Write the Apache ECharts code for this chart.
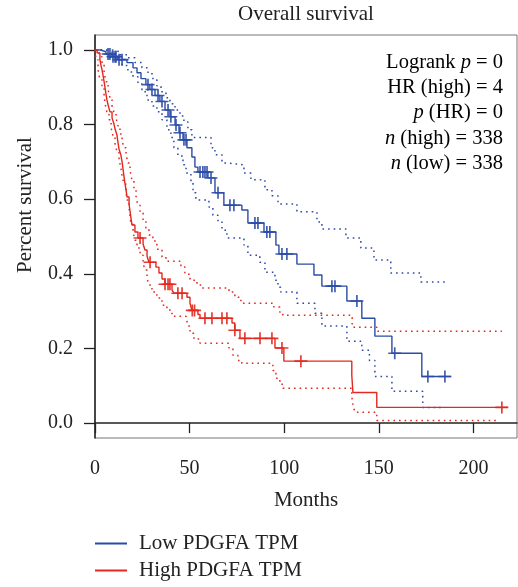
<!DOCTYPE html>
<html>
<head>
<meta charset="utf-8" />
<title>Overall survival</title>
<script src="https://cdn.jsdelivr.net/npm/echarts@6/dist/echarts.min.js"></script>
</head>
<body style="margin:0">
<div id="chart" style="width:518px;height:587px"></div>
<script>
// Kaplan-Meier step points: [month, survival]
var lowCurve = [[0,1.0],[2.6,0.995],[5.8,0.989],[9.0,0.982],[12.1,0.974],[16.9,0.966],[20.1,0.952],[22.2,0.939],[24.3,0.923],[26.9,0.907],[29.0,0.894],[31.7,0.878],[34.3,0.862],[37.0,0.839],[39.6,0.821],[42.3,0.799],[44.4,0.778],[46.5,0.759],[48.6,0.738],[51.2,0.713],[52.8,0.686],[54.4,0.673],[59.7,0.657],[63.4,0.617],[68.1,0.584],[77.6,0.571],[80.8,0.536],[89.3,0.512],[95.6,0.477],[97.2,0.453],[106.7,0.426],[115.7,0.397],[119.9,0.367],[133.1,0.327],[141.0,0.281],[147.9,0.233],[156.9,0.187],[172.7,0.125],[188.0,0.125]];
var lowUpper = [[0,1.0],[9.0,0.995],[13.2,0.987],[17.4,0.979],[21.1,0.966],[24.8,0.952],[28.0,0.936],[30.6,0.920],[32.7,0.904],[34.9,0.888],[37.5,0.872],[39.6,0.856],[42.3,0.839],[44.9,0.823],[47.0,0.807],[49.1,0.786],[51.2,0.765],[61.3,0.738],[63.4,0.719],[67.1,0.697],[69.7,0.692],[78.7,0.670],[82.4,0.652],[89.8,0.625],[93.5,0.609],[96.7,0.587],[106.7,0.566],[117.3,0.539],[119.9,0.520],[132.6,0.496],[140.5,0.469],[147.4,0.437],[156.3,0.402],[172.2,0.378],[184.9,0.378]];
var lowLower = [[0,1.0],[5.3,0.995],[9.0,0.987],[12.1,0.974],[14.3,0.958],[17.4,0.941],[20.1,0.928],[22.7,0.909],[24.8,0.888],[27.5,0.866],[30.1,0.850],[32.7,0.834],[35.4,0.813],[38.0,0.786],[40.1,0.765],[41.7,0.738],[43.8,0.716],[46.5,0.692],[48.1,0.670],[50.7,0.646],[51.8,0.617],[53.3,0.598],[60.2,0.579],[62.3,0.557],[65.0,0.539],[67.1,0.517],[69.7,0.496],[78.7,0.477],[80.8,0.450],[87.1,0.431],[89.8,0.404],[95.1,0.383],[96.7,0.364],[98.2,0.351],[106.7,0.321],[116.2,0.294],[119.9,0.260],[133.1,0.219],[141.0,0.195],[145.0,0.168],[147.9,0.125],[156.9,0.085],[173.2,0.042],[184.9,0.042]];

var highCurve = [[0,1.0],[1.1,0.992],[2.6,0.974],[3.2,0.958],[3.7,0.947],[4.2,0.933],[4.8,0.915],[5.3,0.899],[5.8,0.882],[6.3,0.866],[6.9,0.853],[7.9,0.834],[9.0,0.818],[10.0,0.802],[10.6,0.788],[11.6,0.772],[12.1,0.753],[12.7,0.734],[13.7,0.718],[14.3,0.700],[14.8,0.681],[15.3,0.662],[15.8,0.643],[16.4,0.625],[16.9,0.606],[18.0,0.587],[18.5,0.568],[19.0,0.550],[19.5,0.531],[21.1,0.512],[22.7,0.496],[25.4,0.480],[26.4,0.464],[27.5,0.447],[28.5,0.431],[32.2,0.418],[33.8,0.402],[35.4,0.386],[37.0,0.372],[40.7,0.356],[41.7,0.348],[48.6,0.337],[50.2,0.321],[51.2,0.302],[54.4,0.291],[55.5,0.281],[72.4,0.268],[73.9,0.249],[76.6,0.227],[95.1,0.201],[99.8,0.166],[135.7,0.128],[136.3,0.082],[148.9,0.042],[218.1,0.042]];
var highUpper = [[0,1.0],[1.6,0.995],[2.6,0.982],[3.7,0.961],[4.8,0.939],[5.8,0.915],[6.9,0.894],[7.9,0.872],[9.0,0.850],[10.0,0.834],[11.1,0.818],[12.1,0.797],[13.2,0.775],[14.3,0.756],[15.3,0.738],[16.4,0.719],[17.4,0.697],[18.5,0.678],[19.5,0.652],[20.6,0.625],[21.7,0.603],[22.7,0.584],[23.8,0.563],[25.4,0.544],[26.9,0.523],[28.5,0.504],[30.6,0.488],[32.7,0.466],[35.4,0.445],[37.5,0.434],[45.4,0.418],[47.5,0.399],[50.2,0.383],[53.9,0.370],[56.5,0.362],[70.8,0.351],[73.9,0.337],[77.1,0.321],[94.5,0.311],[97.7,0.297],[99.3,0.289],[135.9,0.257],[148.9,0.246],[215.0,0.246]];
var highLower = [[0,1.0],[0.5,0.974],[1.6,0.947],[2.6,0.920],[3.7,0.899],[4.8,0.877],[5.3,0.856],[6.3,0.834],[7.4,0.813],[8.5,0.791],[9.5,0.770],[10.6,0.748],[11.6,0.727],[12.7,0.705],[13.7,0.684],[14.3,0.662],[15.3,0.641],[16.4,0.619],[16.9,0.598],[18.0,0.576],[18.5,0.555],[19.0,0.533],[20.1,0.512],[21.1,0.490],[22.2,0.469],[23.8,0.450],[25.4,0.429],[26.4,0.410],[27.5,0.388],[28.5,0.370],[30.1,0.351],[32.7,0.335],[35.4,0.316],[38.0,0.303],[40.7,0.286],[48.1,0.281],[49.1,0.260],[50.2,0.241],[52.3,0.225],[55.5,0.214],[70.8,0.201],[72.9,0.182],[75.5,0.168],[77.6,0.160],[94.0,0.141],[95.6,0.120],[97.7,0.104],[99.3,0.093],[135.7,0.072],[136.3,0.050],[137.3,0.029],[148.9,0.007],[213.9,0.007]];

// censored times (months)
var lowCensor = [6.9,7.9,9.5,10.6,11.1,12.7,14.3,28.0,30.1,33.3,35.4,38.6,40.1,42.8,44.9,47.0,48.1,55.5,57.0,58.1,59.2,61.3,65.0,71.3,73.4,84.5,86.1,90.8,92.4,98.8,101.4,125.2,126.8,138.4,158.4,175.9,184.9];
var highCensor = [23.8,29.1,37.0,38.6,39.6,43.8,46.0,51.4,52.6,58.1,61.8,67.1,69.7,73.9,79.2,87.2,93.5,98.8,108.8,215.0];

var xTicks = [0, 50, 100, 150, 200];
var yTicks = [0, 0.2, 0.4, 0.6, 0.8, 1.0];
var statLines = [
	['Logrank ', 'p', ' = 0'],
	['HR (high) = 4', '', ''],
	['', 'p', ' (HR) = 0'],
	['', 'n', ' (high) = 338'],
	['', 'n', ' (low) = 338']
];

var blue = '#2b4ba6';
var red = '#e2281f';
var font = 'Liberation Serif';
var plus = 'path://M4.35,0H5.65V10H4.35ZM0,4.35H10V5.65H0Z';

function survAt(curve, t) {
	var s = curve[0][1];
	for (var i = 0; i < curve.length; i++) {
		if (curve[i][0] <= t) s = curve[i][1];
	}
	return s;
}
function censorPoints(curve, times) {
	return times.map(function(t) { return [t, survAt(curve, t)]; });
}

function kmLine(name, data, color, dotted) {
	return {
		name: name,
		type: 'line',
		step: 'end',
		data: data,
		showSymbol: false,
		silent: true,
		z: dotted ? 2 : 3,
		lineStyle: { color: color, width: dotted ? 1.5 : 1.4, type: dotted ? [1.6, 4] : 'solid' },
		itemStyle: { color: color }
	};
}
function censorSeries(curve, times, color) {
	return {
		type: 'scatter',
		data: censorPoints(curve, times),
		symbol: plus,
		symbolSize: [13, 12],
		silent: true,
		z: 4,
		itemStyle: { color: color, opacity: 0.9 }
	};
}

var richText = {
	t: { fontFamily: font, fontSize: 20.5, color: '#222' },
	i: { fontFamily: font, fontSize: 20.5, color: '#222', fontStyle: 'italic' }
};
var statGraphics = statLines.map(function(l, k) {
	var s = '';
	if (l[0]) s += '{t|' + l[0] + '}';
	if (l[1]) s += '{i|' + l[1] + '}';
	if (l[2]) s += '{t|' + l[2] + '}';
	return {
		type: 'text',
		right: 15,
		top: 52 + k * 25.3,
		style: { text: s, rich: richText, align: 'right' }
	};
});
statGraphics.push({
	type: 'text',
	x: 25,
	y: 205,
	rotation: Math.PI / 2,
	style: {
		text: 'Percent survival', fontFamily: font, fontSize: 21, fill: '#222',
		align: 'center', verticalAlign: 'middle'
	}
});

var chart = echarts.init(document.getElementById('chart'));
chart.setOption({
	animation: false,
	title: {
		text: 'Overall survival',
		left: 306,
		textAlign: 'center',
		top: 4,
		padding: 0,
		textStyle: { fontFamily: font, fontSize: 21, fontWeight: 'normal', color: '#222' }
	},
	grid: {
		left: 95, right: 1, top: 35, bottom: 149,
		show: true, borderColor: '#777', borderWidth: 1
	},
	legend: {
		orient: 'vertical',
		left: 90,
		top: 528,
		itemWidth: 32,
		itemHeight: 2,
		itemGap: 6,
		icon: 'rect',
		textStyle: { fontFamily: font, fontSize: 21, color: '#222', padding: [0, 0, 0, 7] },
		data: ['Low PDGFA TPM', 'High PDGFA TPM']
	},
	xAxis: {
		type: 'value',
		min: 0,
		max: 223,
		name: 'Months',
		nameLocation: 'middle',
		nameGap: 52,
		nameTextStyle: { fontFamily: font, fontSize: 21, color: '#222' },
		axisLine: { lineStyle: { color: '#222', width: 1.5 } },
		axisTick: { show: true, length: 10, inside: false, customValues: xTicks, lineStyle: { color: '#222', width: 1.3 } },
		axisLabel: { customValues: xTicks, margin: 21, fontFamily: font, fontSize: 20, color: '#222' },
		splitLine: { show: false }
	},
	yAxis: {
		type: 'value',
		min: -0.04,
		max: 1.04,
		axisLine: { show: true, lineStyle: { color: '#222', width: 1.5 } },
		axisTick: { show: true, length: 11, inside: false, customValues: yTicks, lineStyle: { color: '#222', width: 1.3 } },
		axisLabel: {
			customValues: yTicks, margin: 22, fontFamily: font, fontSize: 20, color: '#222',
			formatter: function(v) { return v.toFixed(1); }
		},
		splitLine: { show: false }
	},
	graphic: statGraphics,
	series: [
		kmLine('lowUpper', lowUpper, blue, true),
		kmLine('lowLower', lowLower, blue, true),
		kmLine('highUpper', highUpper, red, true),
		kmLine('highLower', highLower, red, true),
		kmLine('Low PDGFA TPM', lowCurve, blue, false),
		kmLine('High PDGFA TPM', highCurve, red, false),
		censorSeries(lowCurve, lowCensor, blue),
		censorSeries(highCurve, highCensor, red)
	]
});
</script>
</body>
</html>
